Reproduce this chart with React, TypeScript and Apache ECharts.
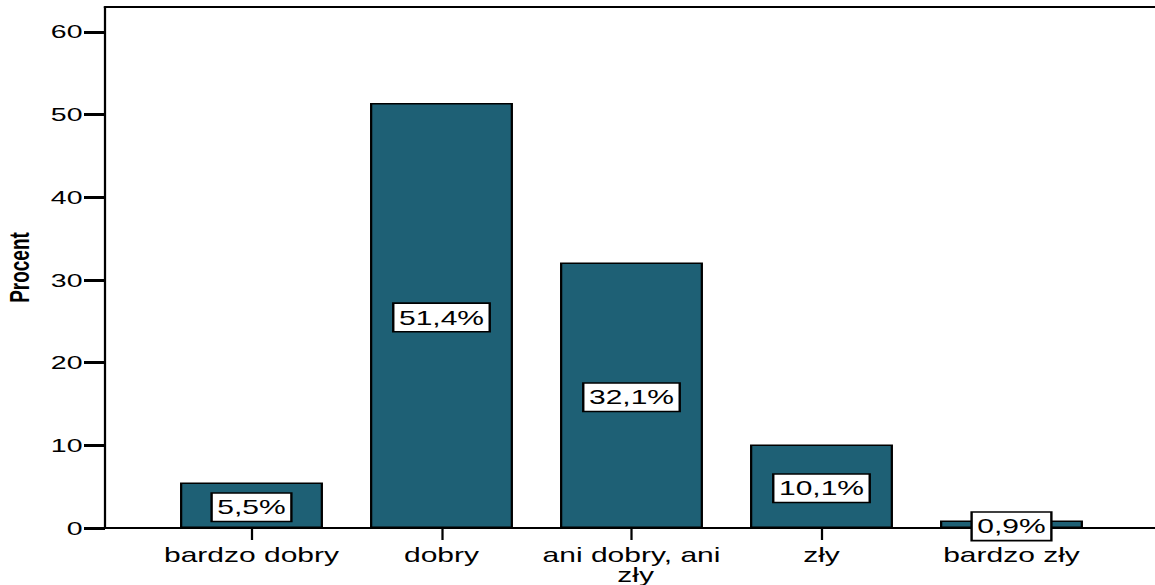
import React, { useEffect, useRef } from "react";
import * as echarts from "echarts";

const categories = ["bardzo dobry", "dobry", "ani dobry, ani zły", "zły", "bardzo zły"];
const percents = [5.5, 51.4, 32.1, 10.1, 0.9];
const yTicks = [0, 10, 20, 30, 40, 50, 60];

const BAR_COLOR = "#1e6075";
const FONT = "'Liberation Sans', Arial, sans-serif";

// The chart is laid out on a narrower canvas and stretched horizontally,
// which gives the wide lettering of the original SPSS export.
const STRETCH = 1.5;
const OUT_W = 1155;
const OUT_H = 585;
const BASE_W = OUT_W / STRETCH;

const Y_MAX = 63;
const TOP = 7;
const BOTTOM = 57;

export default function App() {
  const ref = useRef<HTMLDivElement>(null);

  useEffect(() => {
    if (!ref.current) return;
    const chart = echarts.init(ref.current, undefined, { renderer: "svg" });

    chart.setOption({
      animation: false,
      backgroundColor: "#ffffff",
      grid: [
        // frame: left value axis, baseline and top rule
        { left: 70, right: 0, top: TOP, bottom: BOTTOM, containLabel: false, outerBoundsMode: "none" },
        // category bands for the bars, inset from the frame
        { left: 104.33, width: 633.33, top: TOP, bottom: BOTTOM, containLabel: false, outerBoundsMode: "none" },
      ],
      xAxis: [
        {
          gridIndex: 0,
          type: "value",
          min: 0,
          max: 1,
          splitLine: { show: false },
          axisLine: { show: true, onZero: false, lineStyle: { color: "#000", width: 2.2 } },
          axisTick: { show: false },
          axisLabel: { show: false },
        },
        {
          gridIndex: 0,
          type: "value",
          position: "top",
          min: 0,
          max: 1,
          splitLine: { show: false },
          axisLine: { show: true, onZero: false, lineStyle: { color: "#000", width: 2 } },
          axisTick: { show: false },
          axisLabel: { show: false },
        },
        {
          gridIndex: 1,
          type: "category",
          data: categories,
          axisLine: { show: false },
          axisTick: {
            show: true,
            alignWithLabel: true,
            length: 12,
            lineStyle: { color: "#000", width: 1.5 },
          },
          axisLabel: {
            interval: 0,
            color: "#000",
            fontFamily: FONT,
            fontSize: 20,
            margin: 17,
            width: 125,
            overflow: "break",
            lineHeight: 20,
          },
        },
      ],
      yAxis: [
        {
          gridIndex: 0,
          type: "value",
          min: 0,
          max: Y_MAX,
          interval: 10,
          splitLine: { show: false },
          axisLine: { show: true, onZero: false, lineStyle: { color: "#000", width: 1.5 } },
          axisTick: {
            show: true,
            length: 14,
            customValues: yTicks,
            lineStyle: { color: "#000", width: 3 },
          },
          axisLabel: {
            customValues: yTicks,
            color: "#000",
            fontFamily: FONT,
            fontSize: 19,
            margin: 15,
          },
          name: "Procent",
          nameLocation: "middle",
          nameGap: 48,
          nameTextStyle: {
            color: "#000",
            fontFamily: FONT,
            fontWeight: "bold",
            fontSize: 19,
          },
        },
        {
          gridIndex: 1,
          type: "value",
          min: 0,
          max: Y_MAX,
          show: false,
          splitLine: { show: false },
        },
      ],
      series: [
        {
          type: "bar",
          xAxisIndex: 2,
          yAxisIndex: 1,
          barWidth: 95.3,
          data: percents,
          itemStyle: { color: BAR_COLOR, borderColor: "#000", borderWidth: 1.5 },
          label: {
            show: true,
            position: "inside",
            offset: [0, 2],
            formatter: (p: any) => `${String(p.value).replace(".", ",")}%`,
            color: "#000",
            fontFamily: FONT,
            fontSize: 20,
            backgroundColor: "#fff",
            borderColor: "#000",
            borderWidth: 1.6,
            padding: [4, 3, 3, 3],
          },
        },
      ],
    });

    return () => chart.dispose();
  }, []);

  return (
    <div style={{ position: "absolute", left: 0, top: 0, width: OUT_W, height: OUT_H, overflow: "hidden", background: "#fff" }}>
      <div
        ref={ref}
        style={{
          width: BASE_W,
          height: OUT_H,
          transform: `scaleX(${STRETCH})`,
          transformOrigin: "0 0",
        }}
      />
    </div>
  );
}
